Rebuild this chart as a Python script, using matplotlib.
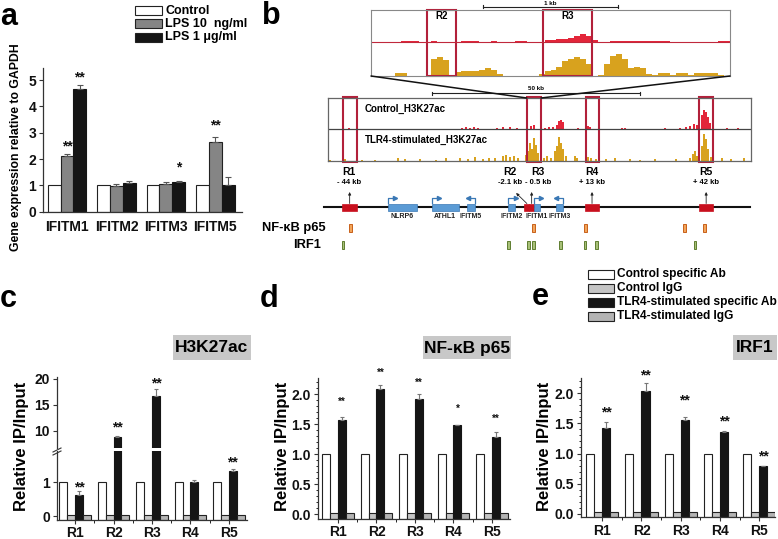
import numpy as np
import matplotlib
matplotlib.use('Agg')
import matplotlib.pyplot as plt
from matplotlib.patches import Rectangle, ConnectionPatch
from matplotlib.ticker import MultipleLocator, FixedLocator

plt.rcParams['font.family'] = ['Liberation Sans', 'DejaVu Sans']
plt.rcParams['font.weight'] = 'bold'

# ---------------- data ----------------
# panel a
genes_a = ['IFITM1', 'IFITM2', 'IFITM3', 'IFITM5']
a_names = ['Control', 'LPS 10  ng/ml', 'LPS 1 μg/ml']
a_control = [1.0, 1.0, 1.0, 1.0]
a_lps10 = [2.12, 0.96, 1.04, 2.66]
a_lps10_err = [0.08, 0.08, 0.08, 0.19]
a_lps1 = [4.65, 1.10, 1.14, 1.02]
a_lps1_err = [0.16, 0.07, 0.02, 0.31]
a_stars = [(0, 1, '**', 2.66), (0, 2, '**', 5.29), (2, 2, '*', 1.84), (3, 1, '**', 3.45)]

# panels c-e
regions = ['R1', 'R2', 'R3', 'R4', 'R5']
chip_names = ['Control specific Ab', 'Control IgG', 'TLR4-stimulated specific Ab', 'TLR4-stimulated IgG']
ctrl_specific = [1.0, 1.0, 1.0, 1.0, 1.0]
ctrl_igg = [0.03, 0.03, 0.03, 0.03, 0.03]
tlr_igg = [0.03, 0.03, 0.03, 0.03, 0.03]
h3k27ac = [0.64, 8.8, 16.6, 1.01, 1.35]
h3k27ac_err = [0.10, 0.10, 1.5, 0.06, 0.05]
h3k27ac_stars = ['**', '**', '**', '', '**']
h3k27ac_star_y = [1.0, 11.5, 20.0, 0, 1.73]
p65 = [1.57, 2.09, 1.92, 1.49, 1.28]
p65_err = [0.05, 0.06, 0.08, 0.0, 0.09]
p65_stars = ['**', '**', '**', '*', '**']
p65_star_y = [1.93, 2.40, 2.24, 1.81, 1.64]
irf1 = [1.43, 2.04, 1.56, 1.36, 0.80]
irf1_err = [0.10, 0.13, 0.05, 0.01, 0.0]
irf1_stars = ['**', '**', '**', '**', '**']
irf1_star_y = [1.76, 2.36, 1.95, 1.60, 1.03]

# panel b: genome diagram (kb relative to IFITM1)
gene_names = ['NLRP6', 'ATHL1', 'IFITM5', 'IFITM2', 'IFITM1', 'IFITM3']
gene_start = [-35.7, -25.1, -16.6, -6.7, -0.5, 4.8]
gene_end = [-28.7, -18.6, -14.7, -5.1, 1.0, 6.5]
gene_strand = [1, 1, -1, 1, 1, -1]
region_dist = ['- 44 kb', '-2.1 kb', '- 0.5 kb', '+ 13 kb', '+ 42 kb']
region_label_x = [-45.0, -6.3, 0.5, 13.5, 41.0]
region_blocks = [(-46.7, -43.1), (-2.8, -1.7), (-1.6, -0.5), (11.8, 15.2), (39.3, 42.7)]
region_arrow_x = [-44.9, -2.2, -1.05, 13.5, 41.0]
track_boxes = [(-46.5, -43.1), (-2.2, 1.2), (12.0, 15.2), (39.3, 42.7)]
nfkb_sites = [-44.6, -0.7, 12.0, 35.7, 40.7]
irf1_sites = [-46.5, -6.7, -1.7, -0.7, 6.0, 11.8, 14.5, 38.3]

# H3K27ac signal, 102 kb view (positions kb, heights arbitrary)
ctrl_sig_pos = [-45.1, -17.8, -16.9, -15.9, -14.9, -14.0, -9.4, -8.0, -6.3, -4.6, -1.2, -0.5,
                2.2, 3.1, 4.1, 5.1, 5.5, 6.0, 6.5, 10.1, 12.5, 13.0, 20.7, 21.4, 31.1,
                34.7, 36.1, 37.1, 38.1, 38.8, 40.0, 40.5, 41.0, 41.4, 41.9, 46.0, 48.7]
ctrl_sig_h = [0.8, 1.5, 2, 1.5, 2.5, 1.5, 1.5, 2, 2.5, 1.5, 3, 4.5,
              1.5, 2, 2, 4, 8, 9, 7, 1, 3, 2.5, 1.5, 1, 0.8,
              1.5, 2.5, 3.5, 5, 4, 14, 19, 17, 12, 6, 1, 1]
tlr_sig_pos = [-49.6, -46.0, -41.9, -38.8, -33.3, -31.6, -28.0, -24.1, -21.7, -18.3, -16.4, -14.7,
               -12.8, -11.3, -9.9, -8.0, -7.2, -6.3, -5.3, -4.3, -2.4, -1.9, -1.4, -1.0, -0.5,
               0.0, 0.5, 1.2, 1.9, 2.7, 3.6, 4.6, 5.1, 5.5, 6.0, 6.5, 7.2, 9.4, 9.9, 12.5,
               13.3, 14.5, 16.9, 19.0, 22.7, 25.1, 28.7, 33.7, 37.1, 37.8, 38.3, 38.8, 40.0,
               40.5, 41.0, 41.4, 42.2, 44.8, 47.0, 50.1]
tlr_sig_h = [1, 2, 1.5, 1, 3, 2, 2, 1.5, 3, 3, 2, 4,
             2, 3, 3, 5, 6, 4, 5, 3, 6, 10, 18, 12, 23,
             16, 8, 4, 3, 5, 3, 10, 15, 24, 18, 12, 5, 5, 3, 4,
             3, 2, 2, 3, 2, 1.5, 2, 2, 3, 7, 10, 5, 15,
             27, 22, 12, 4, 3, 2, 3]

# zoomed 1 kb-scale view (60 bins), heights arbitrary
zoom_span_bp = 2660
zoom_regions = [('R2', 415, 630), ('R3', 1274, 1637)]
gold_zoom = [0.5, 0.5, 0.5, 0.5, 3, 3, 0.5, 0.5, 0.5, 0.5,
             17, 19, 16, 0.5, 4, 5, 5, 5, 6, 8,
             6, 2, 0.5, 0.5, 0.5, 0.5, 0.5, 0.5, 2, 5,
             6, 9, 15, 17, 19, 17, 12, 0.5, 1, 12,
             20, 22, 17, 8, 9, 8, 2, 1, 3, 3,
             1, 3, 3, 1, 3, 3, 3, 3, 1, 0.5]
red_zoom = [0.3, 0.3, 0.3, 0.3, 0.3, 1.5, 1.5, 1.5, 0.3, 0.3,
            1.5, 0.3, 0.3, 0.3, 0.3, 1.5, 1.5, 1.5, 0.3, 0.3,
            1.0, 0.3, 0.3, 0.3, 1.0, 1.0, 0.3, 0.3, 0.3, 2.0,
            2.5, 3.0, 3.5, 4.5, 6.0, 8.0, 6.0, 2.0, 0.3, 0.3,
            1.5, 1.0, 1.5, 1.5, 1.0, 1.5, 1.5, 1.0, 1.5, 1.0,
            0.3, 0.3, 0.3, 0.3, 0.3, 0.3, 0.3, 0.3, 1.0, 1.0]

# ---------------- figure ----------------
W, H = 778, 539
fig = plt.figure(figsize=(W / 100, H / 100), dpi=100)

GOLD = '#d8a21e'
RED = '#e3263a'
BOXRED = '#b2203a'
BLUE = '#5b9bd5'


def axpx(x0, y0, x1, y1):
    return fig.add_axes([x0 / W, 1 - y1 / H, (x1 - x0) / W, (y1 - y0) / H])


def ftext(x, y, s, **kw):
    return fig.text(x / W, 1 - y / H, s, **kw)


def frect(x0, y0, x1, y1, **kw):
    fig.add_artist(Rectangle((x0 / W, 1 - y1 / H), (x1 - x0) / W, (y1 - y0) / H,
                             transform=fig.transFigure, **kw))


def style_ax(ax):
    for s in ['top', 'right']:
        ax.spines[s].set_visible(False)
    for s in ['left', 'bottom']:
        ax.spines[s].set_color('#333333')
        ax.spines[s].set_linewidth(0.9)
    ax.tick_params(direction='out', length=3, width=0.8, labelsize=10, pad=2,
                   color='#333333', labelcolor='#111111')
    ax.patch.set_alpha(0)


def star(ax, x, y, s, fs):
    ax.annotate(s, xy=(x, y), xytext=(0, -0.62 * fs), textcoords='offset points',
                ha='center', va='baseline', fontsize=fs, fontweight='bold',
                annotation_clip=False, color='#111111')


# ---------------- panel a ----------------
ax_a = axpx(43, 68.3, 242, 211.7)
style_ax(ax_a)
xa = np.arange(len(genes_a))
wa = 0.26
ek = dict(ecolor='#555555', elinewidth=0.8, capsize=2, capthick=0.8)
z4 = np.zeros(4)
ax_a.bar(xa - wa, a_control, wa, color='white', edgecolor='#222222', lw=0.8)
ax_a.bar(xa, a_lps10, wa, color='#858585', edgecolor='#222222', lw=0.8,
         yerr=[z4, a_lps10_err], error_kw=ek)
ax_a.bar(xa + wa, a_lps1, wa, color='#151515', edgecolor='#151515', lw=0.8,
         yerr=[z4, a_lps1_err], error_kw=ek)
ax_a.set_xlim(-0.486, 3.54)
ax_a.set_ylim(0, 5.45)
ax_a.set_yticks(range(6))
ax_a.set_xticks(xa)
ax_a.set_xticklabels(genes_a, fontweight='bold')
ax_a.tick_params(axis='x', length=0, pad=6)
for lab in ax_a.get_yticklabels():
    lab.set_fontweight('bold')
for g, sidx, s, y in a_stars:
    star(ax_a, xa[g] + (sidx - 1) * wa, y, s, 10)
ftext(16, 147, 'Gene expression relative to GAPDH', rotation=90, ha='center', va='center',
      fontsize=8.8, fontweight='bold')
for i, (nm, fc) in enumerate(zip(a_names, ['white', '#858585', '#151515'])):
    yc = [10.5, 23.5, 37][i]
    frect(135, yc - 4.5, 162, yc + 4.5, fc=fc, ec='#222222', lw=0.8)
    ftext(165, yc, nm, fontsize=9, fontweight='bold', ha='left', va='center')
ftext(0, 25, 'a', fontsize=22, fontweight='bold', ha='left', va='baseline')

# ---------------- panel b ----------------
ftext(262, 24, 'b', fontsize=22, fontweight='bold', ha='left', va='baseline')

# zoomed view
ub = axpx(371, 10, 730, 76)
ub.set_xlim(0, zoom_span_bp)
ub.set_ylim(0, 66)
ub.set_xticks([])
ub.set_yticks([])
for s in ub.spines.values():
    s.set_color('#888888')
    s.set_linewidth(0.8)
edges = np.linspace(0, zoom_span_bp, len(gold_zoom) + 1)
ub.stairs(gold_zoom, edges, baseline=0, fill=True, color=GOLD)
ub.stairs(np.array(red_zoom) + 34, edges, baseline=34, fill=True, color=RED)
ub.axhline(34, color='#c0283c', lw=0.8)
for nm, s0, s1 in zoom_regions:
    ub.add_patch(Rectangle((s0, 0), s1 - s0, 66, fill=False, ec=BOXRED, lw=1.5, clip_on=False))
    ub.text((s0 + s1) / 2, 60, nm, ha='center', va='center', fontsize=7, fontweight='bold')
ub.plot([830, 1830], [69.5, 69.5], color='#222222', lw=0.8, clip_on=False)
ub.plot([830, 830], [68, 71], color='#222222', lw=0.8, clip_on=False)
ub.plot([1830, 1830], [68, 71], color='#222222', lw=0.8, clip_on=False)
ub.text(1330, 70.8, '1 kb', ha='center', va='baseline', fontsize=4.5, fontweight='bold')

# 100 kb view
lb = axpx(328, 98, 751, 161)
lb.set_xlim(-50.1, 51.8)
lb.set_ylim(0, 63)
lb.set_xticks([])
lb.set_yticks([])
for s in lb.spines.values():
    s.set_color('#666666')
    s.set_linewidth(0.9)
lb.bar(ctrl_sig_pos, ctrl_sig_h, width=0.5, bottom=32, color=RED, lw=0)
lb.bar(tlr_sig_pos, tlr_sig_h, width=0.5, bottom=0, color=GOLD, lw=0)
lb.axhline(32, color='#444444', lw=0.9)
lb.text(-41.2, 52, 'Control_H3K27ac', ha='left', va='center', fontsize=7, fontweight='bold')
lb.text(-41.2, 21, 'TLR4-stimulated_H3K27ac', ha='left', va='center', fontsize=7, fontweight='bold')
for s0, s1 in track_boxes:
    lb.add_patch(Rectangle((s0, -0.5), s1 - s0, 64.5, fill=False, ec=BOXRED, lw=1.5, clip_on=False))
lb.plot([-25, 25], [68, 68], color='#222222', lw=0.8, clip_on=False)
lb.plot([-25, -25], [66.5, 69.5], color='#222222', lw=0.8, clip_on=False)
lb.plot([25, 25], [66.5, 69.5], color='#222222', lw=0.8, clip_on=False)
lb.text(0, 70, '50 kb', ha='center', va='bottom', fontsize=4.5, fontweight='bold')

for xa_, xb_ in [(0, track_boxes[1][0]), (1, track_boxes[1][1])]:
    con = ConnectionPatch(xyA=(xa_, 0), coordsA='axes fraction', axesA=ub,
                          xyB=(xb_, 63), coordsB='data', axesB=lb, color='#111111', lw=1.1)
    fig.add_artist(con)

# gene diagram
gd = axpx(262, 160, 778, 255)
gd.set_xlim(-66.02, 58.31)
gd.set_ylim(255, 160)
gd.axis('off')
gd.plot([-51.1, 51.6], [207, 207], color='#111111', lw=1.5, zorder=1)
for i, (s0, s1) in enumerate(region_blocks):
    gd.add_patch(Rectangle((s0, 203.5), s1 - s0, 7, fc='#c8101e', ec='#c8101e', lw=0.5, zorder=3))
for nm, lx, dist in zip(regions, region_label_x, region_dist):
    gd.text(lx, 172, nm, ha='center', va='center', fontsize=7.5, fontweight='bold')
    gd.text(lx, 183, dist, ha='center', va='center', fontsize=5.5, fontweight='bold')
for i, ax_x in enumerate(region_arrow_x):
    if i == 1:
        gd.annotate('', xy=(-4.8, 193), xytext=(ax_x, 203.5),
                    arrowprops=dict(arrowstyle='-|>', color='#222222', lw=0.6,
                                    mutation_scale=4, shrinkA=0, shrinkB=0))
    else:
        gd.annotate('', xy=(ax_x, 192), xytext=(ax_x, 203.5),
                    arrowprops=dict(arrowstyle='-|>', color='#222222', lw=0.6,
                                    mutation_scale=4, shrinkA=0, shrinkB=0))
for nm, s0, s1, st in zip(gene_names, gene_start, gene_end, gene_strand):
    gd.add_patch(Rectangle((s0, 203.5), s1 - s0, 7, fc=BLUE, ec='#3a78b5', lw=0.5, zorder=3))
    tss = s0 if st > 0 else s1
    tip = tss + st * 1.8
    gd.plot([tss, tss, tip], [203.5, 198.5, 198.5], color='#3a78b5', lw=0.9, zorder=3)
    gd.plot([tip], [198.5], marker='>' if st > 0 else '<', ms=3, color='#3a78b5', zorder=3)
    gd.text((s0 + s1) / 2, 217, nm, ha='center', va='center', fontsize=5, fontweight='bold',
            color='#222222')
for p in nfkb_sites:
    gd.add_patch(Rectangle((p - 0.35, 224), 0.7, 8, fc='#f2a55a', ec='#c8601a', lw=0.7))
for p in irf1_sites:
    gd.add_patch(Rectangle((p - 0.35, 241), 0.7, 8, fc='#a8c078', ec='#5f7d30', lw=0.7))
gd.text(-50.6, 228, 'NF-κB p65', ha='right', va='center', fontsize=9.3, fontweight='bold')
gd.text(-51.8, 245, 'IRF1', ha='right', va='center', fontsize=9.3, fontweight='bold')

# ---------------- panels c-e ----------------
chip_colors = ['white', '#c4c4c4', '#151515', '#b4b4b4']
wb = 0.205
x5 = np.arange(5)
z5 = np.zeros(5)


def chip_bars(ax, tlr, err, base):
    series = [ctrl_specific, ctrl_igg, tlr, tlr_igg]
    for k, (vals, col) in enumerate(zip(series, chip_colors)):
        ec = '#151515' if k == 2 else '#222222'
        ax.bar(x5 + (k - 1.5) * wb, np.array(vals) - base, wb, bottom=base,
               color=col, edgecolor=ec, lw=0.8)
    ax.errorbar(x5 + 0.5 * wb, tlr, yerr=[z5, err], fmt='none', ecolor='#777777',
                elinewidth=0.8, capsize=1.5, capthick=0.8)


def chip_xaxis(ax, x0):
    ax.set_xlim(x0, 4.47)
    ax.set_xticks(x5)
    ax.set_xticklabels(regions, fontweight='bold')
    ax.xaxis.set_minor_locator(FixedLocator(x5[:-1] + 0.5))
    ax.tick_params(axis='x', which='minor', length=2, direction='out')
    ax.tick_params(axis='x', pad=1.5)


def title_box(x0, y0, x1, y1, s):
    frect(x0, y0, x1, y1, fc='#c8c8c8', ec='none')
    ftext((x0 + x1) / 2, (y0 + y1) / 2 + 0.5, s, ha='center', va='center', fontsize=12.5,
          fontweight='bold')


# panel c (broken axis)
c_lo = axpx(57, 451, 247, 519.5)
c_hi = axpx(57, 377, 247, 448)
for ax in (c_lo, c_hi):
    style_ax(ax)
    chip_bars(ax, h3k27ac, h3k27ac_err, -0.10 if ax is c_lo else 0)
c_lo.set_ylim(-0.10, 1.93)
c_lo.set_yticks([0, 1])
c_hi.set_ylim(6.67, 20.33)
c_hi.set_yticks([10, 15, 20])
c_hi.spines['bottom'].set_visible(False)
c_hi.set_xticks([])
c_hi.set_xlim(-0.47, 4.47)
chip_xaxis(c_lo, -0.47)
for ax in (c_lo, c_hi):
    for lab in ax.get_yticklabels():
        lab.set_fontweight('bold')
for i in range(5):
    if h3k27ac_stars[i]:
        ax = c_hi if h3k27ac_star_y[i] > 5 else c_lo
        star(ax, x5[i] + 0.5 * wb, h3k27ac_star_y[i], h3k27ac_stars[i], 10)
for dy in (-1.5, 1.5):
    fig.add_artist(plt.Line2D([53 / W, 61 / W], [1 - (451.5 + dy + 2) / H, 1 - (451.5 + dy - 2) / H],
                              transform=fig.transFigure, color='#333333', lw=0.8))
frect(52, 449.2, 62, 450.8, fc='white', ec='none')
ftext(22, 446, 'Relative IP/Input', rotation=90, ha='center', va='center', fontsize=12,
      fontweight='bold')
title_box(173, 335, 251, 360, 'H3K27ac')
ftext(0, 307, 'c', fontsize=22, fontweight='bold', ha='left', va='baseline')

# panel d
ax_d = axpx(318, 378, 510, 519)
style_ax(ax_d)
chip_bars(ax_d, p65, p65_err, -0.078)
ax_d.set_ylim(-0.078, 2.27)
ax_d.set_yticks([0, 0.5, 1.0, 1.5, 2.0])
ax_d.set_yticklabels(['0.0', '0.5', '1.0', '1.5', '2.0'], fontweight='bold')
ax_d.yaxis.set_minor_locator(MultipleLocator(0.1))
ax_d.tick_params(axis='y', which='minor', length=1.5)
chip_xaxis(ax_d, -0.52)
for i in range(5):
    star(ax_d, x5[i] + 0.5 * wb, p65_star_y[i], p65_stars[i], 7)
ftext(282, 446, 'Relative IP/Input', rotation=90, ha='center', va='center', fontsize=12,
      fontweight='bold')
title_box(423, 336, 511, 359, 'NF-κB p65')
ftext(260, 307, 'd', fontsize=22, fontweight='bold', ha='left', va='baseline')

# panel e
ax_e = axpx(581, 378, 775, 517.3)
style_ax(ax_e)
chip_bars(ax_e, irf1, irf1_err, -0.055)
ax_e.set_ylim(-0.055, 2.25)
ax_e.set_yticks([0, 0.5, 1.0, 1.5, 2.0])
ax_e.set_yticklabels(['0.0', '0.5', '1.0', '1.5', '2.0'], fontweight='bold')
ax_e.yaxis.set_minor_locator(MultipleLocator(0.1))
ax_e.tick_params(axis='y', which='minor', length=1.5)
chip_xaxis(ax_e, -0.54)
ax_e.set_xlim(-0.54, 4.4)
for i in range(5):
    star(ax_e, x5[i] + 0.5 * wb, irf1_star_y[i], irf1_stars[i], 10)
ftext(545, 446, 'Relative IP/Input', rotation=90, ha='center', va='center', fontsize=12,
      fontweight='bold')
title_box(733, 335, 777, 360, 'IRF1')
ftext(532, 305, 'e', fontsize=22, fontweight='bold', ha='left', va='baseline')

# legend for c-e
for i, (nm, fc) in enumerate(zip(chip_names, chip_colors)):
    yc = [274, 288, 302, 316][i]
    frect(588, yc - 4.5, 614, yc + 4.5, fc=fc, ec='#222222', lw=0.8)
    ftext(617, yc, nm, fontsize=8.6, fontweight='bold', ha='left', va='center')

fig.savefig('out.png', dpi=100)
